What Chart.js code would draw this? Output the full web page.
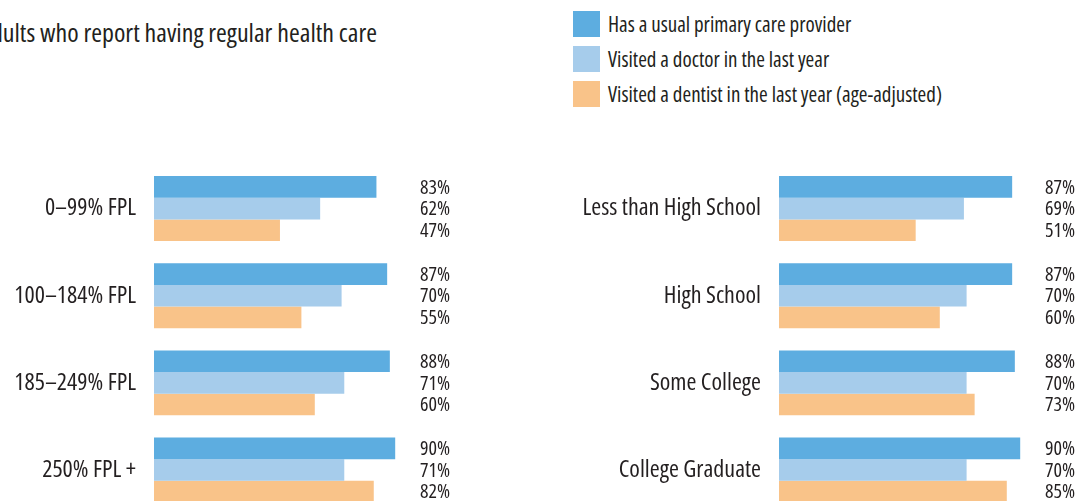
<!DOCTYPE html>
<html>
<head>
<meta charset="utf-8">
<script src="https://cdn.jsdelivr.net/npm/chart.js@4"></script>
<style>
  html, body { margin: 0; padding: 0; background: #fff; overflow: hidden; width: 1084px; height: 501px; }
  body { position: relative; font-family: 'Open Sans', sans-serif; font-stretch: condensed; color: #231f20; }
  #title { position: absolute; right: calc(1084px - 377px); top: 14px; font-size: 26px; white-space: nowrap; }
  #legend { position: absolute; left: 573px; top: 11px; }
  .item { display: flex; align-items: center; height: 26px; margin-bottom: 9px; font-size: 21px; white-space: nowrap; }
  .swatch { width: 27px; height: 26px; margin-right: 8px; }
  canvas { position: absolute; top: 0; }
  #leftChart { left: 0; }
  #rightChart { left: 560px; }
</style>
</head>
<body>
<div id="title">Adults who report having regular health care</div>
<div id="legend"></div>
<canvas id="leftChart" width="540" height="546"></canvas>
<canvas id="rightChart" width="524" height="546"></canvas>
<script>
const seriesNames = ['Has a usual primary care provider', 'Visited a doctor in the last year', 'Visited a dentist in the last year (age-adjusted)'];
const seriesColors = ['#5dade0', '#a6cceb', '#f9c389'];

const incomeLabels = ['0\u201399% FPL', '100\u2013184% FPL', '185\u2013249% FPL', '250% FPL +'];
const incomeProvider = [83, 87, 88, 90];
const incomeDoctor = [62, 70, 71, 71];
const incomeDentist = [47, 55, 60, 82];

const eduLabels = ['Less than High School', 'High School', 'Some College', 'College Graduate'];
const eduProvider = [87, 87, 88, 90];
const eduDoctor = [69, 70, 70, 70];
const eduDentist = [51, 60, 73, 85];

const fontFamily = "'Open Sans', sans-serif";
const textColor = '#231f20';

// legend
const legendEl = document.getElementById('legend');
seriesNames.forEach((name, i) => {
  const row = document.createElement('div');
  row.className = 'item';
  row.innerHTML = '<div class="swatch" style="background:' + seriesColors[i] + '"></div><span>' + name + '</span>';
  legendEl.appendChild(row);
});

// percent labels next to the bars
const valueLabels = {
  id: 'valueLabels',
  afterDatasetsDraw(chart) {
    const ctx = chart.ctx;
    const x = chart.scales.x.getPixelForValue(100) - 2;
    ctx.save();
    ctx.font = 'condensed 20px ' + fontFamily;
    ctx.fillStyle = textColor;
    ctx.textAlign = 'left';
    ctx.textBaseline = 'middle';
    chart.data.datasets.forEach((ds, i) => {
      chart.getDatasetMeta(i).data.forEach((bar, j) => {
        ctx.fillText(ds.data[j] + '%', x, bar.y + 1);
      });
    });
    ctx.restore();
  }
};

function makeChart(id, labels, a, b, c, axisWidth, padRight) {
  const values = [a, b, c];
  return new Chart(document.getElementById(id), {
    type: 'bar',
    data: {
      labels: labels,
      datasets: values.map((v, i) => ({
        label: seriesNames[i],
        data: v,
        backgroundColor: seriesColors[i],
        borderWidth: 0,
        barPercentage: 1,
        categoryPercentage: 0.745
      }))
    },
    options: {
      indexAxis: 'y',
      responsive: false,
      animation: false,
      layout: { padding: { top: 165, bottom: 16, right: padRight, left: 0 } },
      plugins: { legend: { display: false }, tooltip: { enabled: false } },
      scales: {
        x: { display: false, min: 0, max: 100 },
        y: {
          grid: { display: false, drawTicks: false },
          border: { display: false },
          ticks: { color: textColor, font: { family: fontFamily, size: 24, weight: '400 condensed' }, padding: 18 },
          afterFit(scale) { scale.width = axisWidth; }
        }
      }
    },
    plugins: [valueLabels]
  });
}

makeChart('leftChart', incomeLabels, incomeProvider, incomeDoctor, incomeDentist, 154, 118);
makeChart('rightChart', eduLabels, eduProvider, eduDoctor, eduDentist, 219, 37);
</script>
</body>
</html>
